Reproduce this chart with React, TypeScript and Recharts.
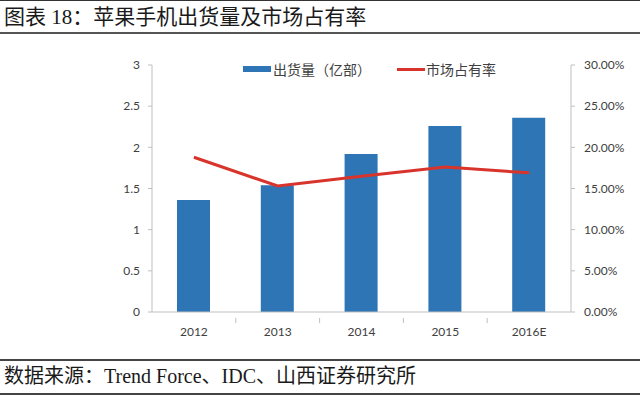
import React from "react";
import { Bar, ComposedChart, Legend, Line, XAxis, YAxis } from "recharts";

const years = ["2012", "2013", "2014", "2015", "2016E"];
const shipments = [1.36, 1.54, 1.92, 2.26, 2.36];
const marketShare = [0.188, 0.153, 0.165, 0.176, 0.169];
const leftTicks = [0, 0.5, 1, 1.5, 2, 2.5, 3];
const rightTicks = [0, 0.05, 0.1, 0.15, 0.2, 0.25, 0.3];

const data = years.map((y, i) => ({ year: y, shipments: shipments[i], share: marketShare[i] }));

const BLUE = "#2e75b6";
const RED = "#d9342b";
const tickStyle = { fontSize: 12, fill: "#404040", fontFamily: "Lato, 'Liberation Sans', sans-serif" };
const cjk = "'Liberation Serif', 'Noto Sans CJK SC', serif";

function LegendBox({ payload }: any) {
  return (
    <div style={{ display: "flex", alignItems: "center", fontFamily: "'Noto Sans CJK SC', sans-serif", fontSize: 14, color: "#404040", whiteSpace: "nowrap" }}>
      {(payload || []).map((p: any) => (
        <div key={p.value} style={{ display: "flex", alignItems: "center", marginRight: 26 }}>
          {p.type === "rect" ? (
            <span style={{ display: "inline-block", width: 28, height: 6, background: p.color, marginRight: 2 }} />
          ) : (
            <span style={{ display: "inline-block", width: 28, height: 3, background: p.color, marginRight: 1 }} />
          )}
          <span style={{ lineHeight: "16px" }}>{p.value}</span>
        </div>
      ))}
    </div>
  );
}

// category label plus the small tick mark at the left edge of each band (Excel style)
function YearTick({ x, y, payload, index }: any) {
  const off = payload && payload.offset ? payload.offset : 0;
  return (
    <g>
      {index > 0 && <line x1={x - off} x2={x - off} y1={y - 10} y2={y - 5} stroke="#bfbfbf" />}
      <text x={x} y={y + 8} textAnchor="middle" {...tickStyle}>
        {payload.value}
      </text>
    </g>
  );
}

export default function App() {
  return (
    <div style={{ position: "absolute", left: 0, top: 0, width: 640, height: 396, background: "#fff", overflow: "hidden" }}>
      <div style={{ position: "absolute", left: 0, top: 0, width: 640, height: 1, background: "#333" }} />
      <div style={{ position: "absolute", left: 4, top: 4, fontFamily: cjk, fontSize: 21, color: "#1a1a1a", lineHeight: "26px", whiteSpace: "nowrap" }}>
        图表 18：苹果手机出货量及市场占有率
      </div>
      <div style={{ position: "absolute", left: 0, top: 32, width: 640, height: 2, background: "#555" }} />

      <div style={{ position: "absolute", left: 0, top: 0 }}>
        <ComposedChart width={640} height={396} data={data} margin={{ top: 65, right: 9, bottom: 54, left: 92 }}>
          <XAxis
            dataKey="year"
            tick={<YearTick />}
            tickLine={false}
            axisLine={{ stroke: "#bfbfbf" }}
            height={30}
            tickMargin={10}
          />
          <YAxis
            yAxisId="left"
            domain={[0, 3]}
            ticks={leftTicks}
            tick={tickStyle}
            axisLine={{ stroke: "#bfbfbf" }}
            tickLine={{ stroke: "#bfbfbf" }}
            tickSize={4}
            tickMargin={8}
            width={60}
          />
          <YAxis
            yAxisId="right"
            orientation="right"
            domain={[0, 0.3]}
            ticks={rightTicks}
            tickFormatter={(v: number) => (v * 100).toFixed(2) + "%"}
            tick={{ ...tickStyle, textAnchor: "start" }}
            axisLine={{ stroke: "#bfbfbf" }}
            tickLine={{ stroke: "#bfbfbf" }}
            tickSize={4}
            tickMargin={9}
            width={60}
          />
          <Legend
            layout="vertical"
            align="center"
            verticalAlign="middle"
            content={<LegendBox />}
            wrapperStyle={{ position: "absolute", left: 243, top: 61, width: 300 }}
          />
          <Bar yAxisId="left" dataKey="shipments" name="出货量（亿部）" fill={BLUE} barSize={33} legendType="rect" isAnimationActive={false} />
          <Line yAxisId="right" dataKey="share" name="市场占有率" stroke={RED} strokeWidth={3} dot={false} type="linear" legendType="line" isAnimationActive={false} />
        </ComposedChart>
      </div>

      <div style={{ position: "absolute", left: 0, top: 359, width: 640, height: 2, background: "#444" }} />
      <div style={{ position: "absolute", left: 4, top: 363, fontFamily: cjk, fontSize: 20, color: "#1a1a1a", lineHeight: "26px", whiteSpace: "nowrap" }}>
        数据来源：Trend Force、IDC、山西证券研究所
      </div>
      <div style={{ position: "absolute", left: 0, top: 393, width: 640, height: 2, background: "#444" }} />
    </div>
  );
}
